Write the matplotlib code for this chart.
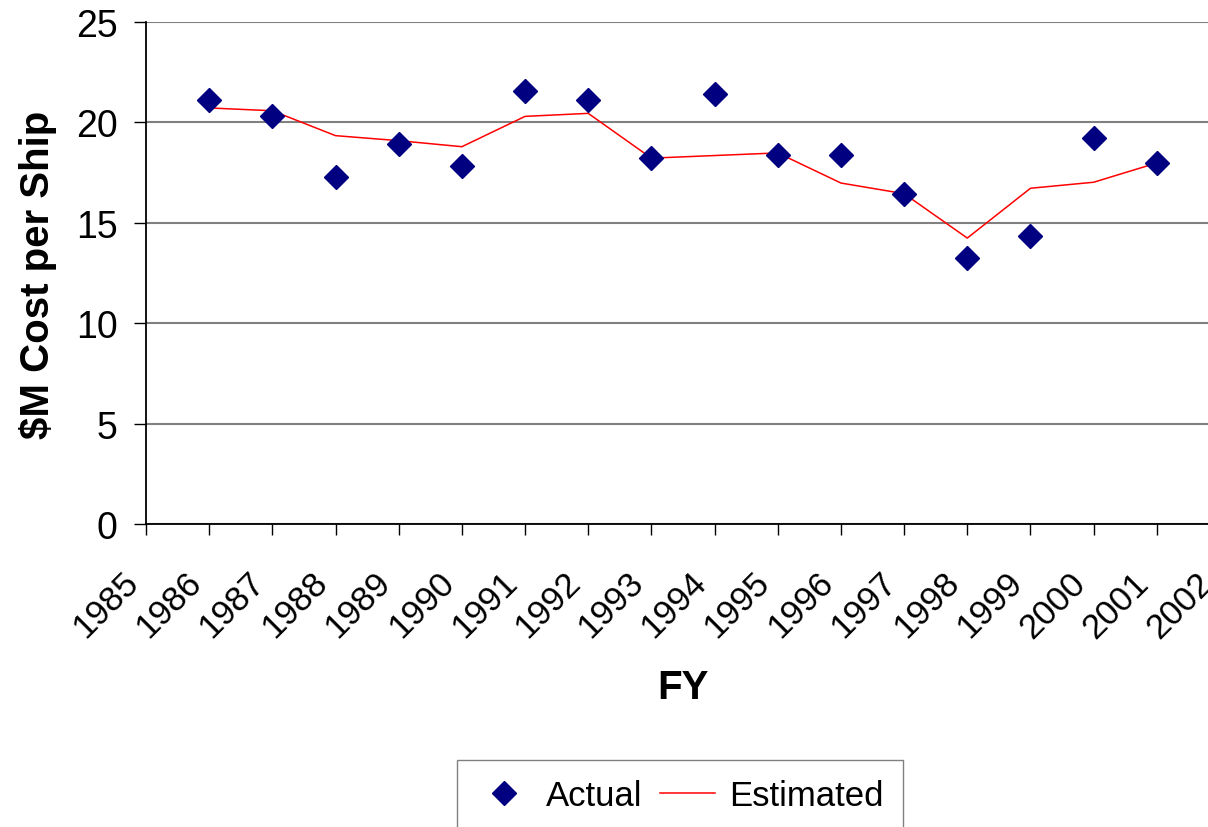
import matplotlib
matplotlib.use("Agg")
import matplotlib.pyplot as plt
from matplotlib.lines import Line2D
from matplotlib.transforms import ScaledTranslation

# Ship cost per fiscal year, $M
years = [1986, 1987, 1988, 1989, 1990, 1991, 1992, 1993,
         1994, 1995, 1996, 1997, 1998, 1999, 2000, 2001]
actual = [21.13, 20.30, 17.27, 18.92, 17.81, 21.55, 21.13, 18.24,
          21.41, 18.38, 18.38, 16.43, 13.25, 14.36, 19.21, 17.96]
estimated = [20.72, 20.58, 19.34, 19.09, 18.79, 20.30, 20.45, 18.22,
             18.35, 18.48, 16.98, 16.45, 14.24, 16.72, 17.02, 17.98]
xticks = list(range(1985, 2003))
yticks = [0, 5, 10, 15, 20, 25]

plt.rcParams['font.family'] = ['Liberation Sans', 'DejaVu Sans']

W, H = 1208, 828
fig = plt.figure(figsize=(W / 100, H / 100), dpi=100)
ax = fig.add_axes([146 / W, (H - 525) / H, (1220 - 146) / W, (525 - 23) / H])

ax.plot(years, estimated, color='#ff0000', lw=1.1, zorder=3)
ax.plot(years, actual, linestyle='none', marker='D', ms=12,
        color='#000080', zorder=4)

ax.set_xlim(1985, 2002)
ax.set_ylim(0, 25)
ax.set_xticks(xticks)
ax.set_xticklabels([])
ax.set_yticks(yticks)

# slanted year labels, hung below and a bit left of each tick
lbl_trans = ax.get_xaxis_transform() + ScaledTranslation(-0.13, -0.53, fig.dpi_scale_trans)
for yr in xticks:
    ax.text(yr, 0, str(yr), transform=lbl_trans, rotation=45, ha='right',
            va='center', rotation_mode='anchor', fontsize=25, clip_on=False)

ax.yaxis.grid(True, color='#808080', lw=1.5)
ax.set_axisbelow(True)
for side in ('top', 'right'):
    ax.spines[side].set_visible(False)
ax.spines['left'].set_linewidth(1.3)
ax.spines['bottom'].set_linewidth(1.3)
ax.tick_params(axis='y', length=8.6, width=1.0, pad=12, labelsize=27)
ax.tick_params(axis='x', length=8, width=1.0)

fig.text(38 / W, 1 - 275 / H, '$M Cost per Ship', rotation=90,
         fontsize=29, fontweight='bold', ha='center', va='center')
fig.text(683 / W, 1 - 688 / H, 'FY', fontsize=29, fontweight='bold',
         ha='center', va='center')

handles = [
    Line2D([], [], linestyle='none', marker='D', ms=12, color='#000080', label='Actual'),
    Line2D([], [], color='#ff0000', lw=1.1, label='Estimated'),
]
fig.legend(handles=handles, loc='upper center', bbox_to_anchor=(680 / W, 1 - 761 / H),
           ncol=2, fontsize=25, frameon=True, fancybox=False, edgecolor='#808080',
           framealpha=1, handlelength=1.6, handletextpad=0.4, columnspacing=0.5,
           borderpad=0.55, borderaxespad=0)

fig.savefig('out.png', dpi=100)
